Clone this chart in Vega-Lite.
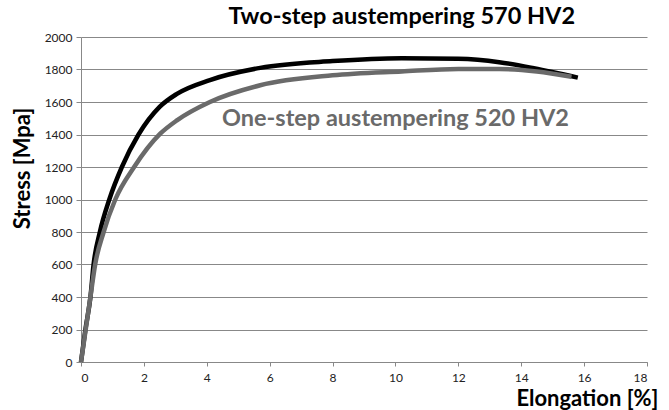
{
  "$schema": "https://vega.github.io/schema/vega-lite/v6.json",
  "width": 566,
  "height": 325,
  "autosize": "none",
  "padding": {"left": 81, "top": 37, "right": 22, "bottom": 48},
  "background": "white",
  "config": {
    "view": {"stroke": null},
    "font": "Lato"
  },
  "datasets": {
    "curves": [
      {"series": "Two-step", "elong": 0, "stress": 0},
      {"series": "Two-step", "elong": 0.14, "stress": 200},
      {"series": "Two-step", "elong": 0.3, "stress": 400},
      {"series": "Two-step", "elong": 0.4, "stress": 600},
      {"series": "Two-step", "elong": 0.6, "stress": 800},
      {"series": "Two-step", "elong": 0.9, "stress": 1000},
      {"series": "Two-step", "elong": 1.3, "stress": 1200},
      {"series": "Two-step", "elong": 1.83, "stress": 1400},
      {"series": "Two-step", "elong": 2.5, "stress": 1570},
      {"series": "Two-step", "elong": 3.05, "stress": 1650},
      {"series": "Two-step", "elong": 4.1, "stress": 1735},
      {"series": "Two-step", "elong": 5.7, "stress": 1810},
      {"series": "Two-step", "elong": 8, "stress": 1852},
      {"series": "Two-step", "elong": 10.2, "stress": 1870},
      {"series": "Two-step", "elong": 12, "stress": 1866},
      {"series": "Two-step", "elong": 13.3, "stress": 1845},
      {"series": "Two-step", "elong": 14.4, "stress": 1808},
      {"series": "Two-step", "elong": 15.8, "stress": 1750},
      {"series": "One-step", "elong": 0, "stress": 0},
      {"series": "One-step", "elong": 0.15, "stress": 200},
      {"series": "One-step", "elong": 0.3, "stress": 400},
      {"series": "One-step", "elong": 0.45, "stress": 600},
      {"series": "One-step", "elong": 0.72, "stress": 800},
      {"series": "One-step", "elong": 1.09, "stress": 1000},
      {"series": "One-step", "elong": 1.69, "stress": 1200},
      {"series": "One-step", "elong": 2.52, "stress": 1405},
      {"series": "One-step", "elong": 3.05, "stress": 1487},
      {"series": "One-step", "elong": 4.1, "stress": 1600},
      {"series": "One-step", "elong": 5.7, "stress": 1703},
      {"series": "One-step", "elong": 8, "stress": 1764},
      {"series": "One-step", "elong": 10.2, "stress": 1788},
      {"series": "One-step", "elong": 12, "stress": 1803},
      {"series": "One-step", "elong": 13.3, "stress": 1803},
      {"series": "One-step", "elong": 14.5, "stress": 1788},
      {"series": "One-step", "elong": 15.6, "stress": 1755}
    ],
    "labels": [
      {"series": "Two-step", "elong": 10.2, "stress": 2078, "text": "Two-step austempering 570 HV2"},
      {"series": "One-step", "elong": 10.0, "stress": 1450, "text": "One-step austempering 520 HV2"}
    ]
  },
  "encoding": {
    "x": {
      "field": "elong", "type": "quantitative",
      "scale": {"domain": [0, 18], "nice": false},
      "axis": {
        "title": "Elongation [%]", "titleAnchor": "end", "titleAlign": "right",
        "titleX": 577,
        "titleFontSize": 22, "titleFontWeight": "bold", "titleColor": "#000",
        "titlePadding": 5, "titleFont": "Lato",
        "values": [0, 2, 4, 6, 8, 10, 12, 14, 16, 18], "format": "d", "labelOverlap": false,
        "grid": false, "domainColor": "#888", "tickColor": "#888", "tickSize": 4,
        "labelFontSize": 12, "labelColor": "#222", "labelPadding": 6, "labelFont": "Lato"
      }
    },
    "y": {
      "field": "stress", "type": "quantitative",
      "scale": {"domain": [0, 2000], "nice": false},
      "axis": {
        "title": "Stress [Mpa]", "titleFontSize": 22, "titleFontWeight": "bold",
        "titleColor": "#000", "titlePadding": 10, "titleFont": "Lato",
        "titleY": 131,
        "values": [0, 200, 400, 600, 800, 1000, 1200, 1400, 1600, 1800, 2000],
        "format": "d", "labelOverlap": false,
        "grid": true, "gridColor": "#888", "gridWidth": 1,
        "domainColor": "#888", "tickColor": "#888", "tickSize": 5,
        "labelFontSize": 12, "labelColor": "#222", "labelPadding": 4, "labelFont": "Lato"
      }
    },
    "color": {
      "field": "series", "type": "nominal",
      "scale": {"domain": ["Two-step", "One-step"], "range": ["#000000", "#6a6a6a"]},
      "legend": null
    }
  },
  "layer": [
    {
      "data": {"name": "curves"},
      "mark": {"type": "line", "interpolate": "monotone", "strokeWidth": 4.5, "strokeCap": "butt"},
      "encoding": {
        "order": {"field": "elong", "type": "quantitative"}
      }
    },
    {
      "data": {"name": "labels"},
      "mark": {"type": "text", "font": "Lato", "fontSize": 23.5, "fontWeight": "bold", "align": "center", "baseline": "alphabetic", "clip": false},
      "encoding": {
        "text": {"field": "text"}
      }
    }
  ]
}
